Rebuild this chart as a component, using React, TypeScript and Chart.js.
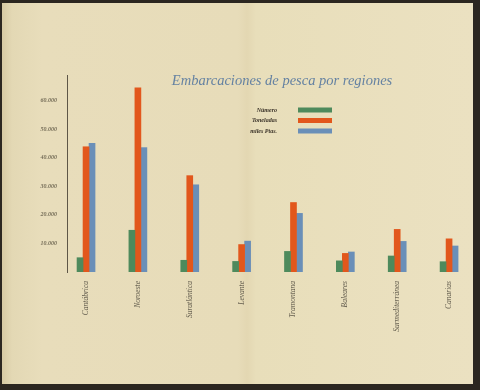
import React, { useEffect, useRef } from "react";
import { Chart, registerables } from "chart.js";

Chart.register(...registerables);

const title = "Embarcaciones de pesca por regiones";
const categories = [
  "Cantábrica",
  "Noroeste",
  "Suratlántica",
  "Levante",
  "Tramontana",
  "Baleares",
  "Surmediterránea",
  "Canarias",
];
const seriesNames = ["Número", "Toneladas", "miles Ptas."];
const numero = [5000, 14600, 4100, 3700, 7200, 3900, 5600, 3600];
const toneladas = [43800, 64400, 33700, 9600, 24300, 6500, 14900, 11600];
const milesPtas = [45000, 43500, 30500, 10800, 20500, 7000, 10700, 9100];
const yTicks = [10000, 20000, 30000, 40000, 50000, 60000];
const colors = ["#4e8a5c", "#e2571c", "#6a8fb8"];

const fmt = (v: number) => `${v / 1000}.000`;

const overlayPlugin = {
  id: "overlay",
  afterDraw(chart: any) {
    const ctx = chart.ctx;
    const area = chart.chartArea;
    ctx.save();
    // title
    ctx.font = 'italic 14.5px "Liberation Serif"';
    ctx.fillStyle = "#6582a2";
    ctx.textAlign = "center";
    ctx.textBaseline = "middle";
    ctx.fillText(title, area.left + (area.right - area.left) * 0.527, 81);
    // legend
    ctx.font = 'italic bold 6px "Liberation Serif"';
    ctx.textAlign = "right";
    chart.data.datasets.forEach((ds: any, i: number) => {
      const y = 110 + i * 10.5;
      ctx.fillStyle = "#3a3228";
      ctx.fillText(ds.label, 277, y);
      ctx.fillStyle = ds.backgroundColor;
      ctx.fillRect(298, y - 2.5, 34, 5);
    });
    ctx.restore();
  },
};

export default function App() {
  const ref = useRef<HTMLCanvasElement>(null);
  useEffect(() => {
    if (!ref.current) return;
    const series = [numero, toneladas, milesPtas];
    const chart = new Chart(ref.current, {
      type: "bar",
      data: {
        datasets: series.map((vals, i) => ({
          label: seriesNames[i],
          data: vals.map((v, j) => ({ x: j, y: v })),
          backgroundColor: colors[i],
          borderWidth: 0,
          barThickness: 6,
        })),
      },
      options: {
        responsive: false,
        animation: false,
        layout: { padding: { left: 0, right: 5, top: 75, bottom: 0 } },
        plugins: {
          legend: { display: false },
          title: { display: false },
          tooltip: { enabled: false },
        },
        scales: {
          x: {
            type: "linear",
            min: -0.367,
            max: 7.5,
            offset: false,
            grid: { display: false, drawTicks: false },
            border: { display: false },
            afterBuildTicks: (scale: any) => {
              scale.ticks = categories.map((_, i) => ({ value: i }));
            },
            afterFit: (scale: any) => {
              scale.height = 118;
            },
            ticks: {
              autoSkip: false,
              minRotation: 90,
              maxRotation: 90,
              padding: 9,
              color: "#5f594b",
              font: { family: '"Liberation Serif"', style: "italic", size: 7.5 },
              callback: (v: any) => categories[Number(v)] ?? "",
            },
          },
          y: {
            type: "linear",
            min: 0,
            max: 68900,
            grid: { display: false, drawTicks: false },
            border: { display: true, color: "#5e5647", width: 1 },
            afterBuildTicks: (scale: any) => {
              scale.ticks = yTicks.map((v) => ({ value: v }));
            },
            afterFit: (scale: any) => {
              scale.width = 67;
            },
            ticks: {
              padding: 10,
              color: "#756d58",
              font: { family: '"Liberation Serif"', style: "italic", weight: "bold", size: 6 },
              callback: (v: any) => fmt(Number(v)),
            },
          },
        },
      },
      plugins: [overlayPlugin],
    });
    return () => chart.destroy();
  }, []);

  return (
    <div
      style={{
        position: "fixed",
        left: 0,
        top: 0,
        width: 480,
        height: 390,
        background: "#2b2620",
      }}
    >
      <div
        style={{
          position: "absolute",
          left: 2,
          top: 3,
          width: 471,
          height: 381,
          background:
            "linear-gradient(to right, #d6c9a3 0px, #e3d8b4 10px, #e8ddbb 40px, #e7dcb9 236px, #e3d7b2 245px, #e8deba 254px, #ebe1c1 100%)",
        }}
      />
      <canvas
        ref={ref}
        width={480}
        height={390}
        style={{ position: "absolute", left: 0, top: 0 }}
      />
    </div>
  );
}
